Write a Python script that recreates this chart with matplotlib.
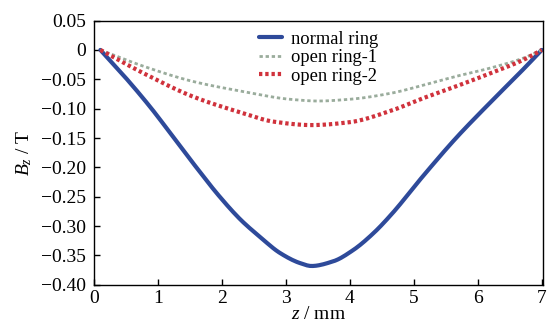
import matplotlib
matplotlib.use("Agg")
import matplotlib.pyplot as plt
import numpy as np

plt.rcParams['font.family'] = ['Liberation Serif', 'DejaVu Serif']
plt.rcParams['mathtext.fontset'] = 'custom'
plt.rcParams['mathtext.rm'] = 'Liberation Serif'
plt.rcParams['mathtext.it'] = 'Liberation Serif:italic'

# normal ring
z_normal = [0.1, 0.5, 0.9, 1.25, 1.6, 1.95, 2.3, 2.59, 2.91, 3.22, 3.40, 3.74, 4.05, 4.36, 4.65, 5.15, 5.66, 6.19, 6.71, 7.0]
b_normal = [0.0, -0.048, -0.100, -0.150, -0.200, -0.248, -0.290, -0.318, -0.346, -0.363, -0.368, -0.360, -0.341, -0.313, -0.280, -0.214, -0.150, -0.090, -0.033, 0.0]

# open ring-1
z_open1 = [0.1, 0.78, 1.56, 2.34, 3.06, 3.5, 4.0, 4.63, 5.15, 5.66, 6.19, 6.71, 7.0]
b_open1 = [0.0, -0.028, -0.054, -0.071, -0.084, -0.087, -0.084, -0.074, -0.060, -0.045, -0.031, -0.014, 0.0]

# open ring-2
z_open2 = [0.1, 0.78, 1.56, 2.34, 2.8, 3.4, 4.0, 4.63, 5.15, 5.66, 6.19, 6.71, 7.0]
b_open2 = [0.0, -0.040, -0.080, -0.108, -0.122, -0.128, -0.123, -0.104, -0.082, -0.062, -0.040, -0.017, 0.0]

series_labels = ["normal ring", "open ring-1", "open ring-2"]
x_ticks = [0, 1, 2, 3, 4, 5, 6, 7]
y_ticks = [-0.40, -0.35, -0.30, -0.25, -0.20, -0.15, -0.10, -0.05, 0.0, 0.05]
y_tick_labels = ["\u22120.40", "\u22120.35", "\u22120.30", "\u22120.25", "\u22120.20",
                 "\u22120.15", "\u22120.10", "\u22120.05", "0", "0.05"]


def smooth(x, y, n=300):
    x = np.asarray(x, float)
    y = np.asarray(y, float)
    xs = np.linspace(x[0], x[-1], n)
    h = np.diff(x)
    d = np.diff(y) / h
    m = np.zeros_like(y)
    m[0], m[-1] = d[0], d[-1]
    for i in range(1, len(y) - 1):
        if d[i - 1] * d[i] <= 0:
            m[i] = 0
        else:
            w1 = 2 * h[i] + h[i - 1]
            w2 = h[i] + 2 * h[i - 1]
            m[i] = (w1 + w2) / (w1 / d[i - 1] + w2 / d[i])
    idx = np.clip(np.searchsorted(x, xs) - 1, 0, len(x) - 2)
    t = (xs - x[idx]) / h[idx]
    h00 = 2 * t**3 - 3 * t**2 + 1
    h10 = t**3 - 2 * t**2 + t
    h01 = -2 * t**3 + 3 * t**2
    h11 = t**3 - t**2
    ys = h00 * y[idx] + h10 * h[idx] * m[idx] + h01 * y[idx + 1] + h11 * h[idx] * m[idx + 1]
    return xs, ys


fig = plt.figure(figsize=(5.48, 3.31), dpi=100)
ax = fig.add_axes([0.1715, 0.1396, 0.8195, 0.7982])

xs, ys = smooth(z_normal, b_normal)
ax.plot(xs, ys, color='#2e4a9a', lw=3.0, label=series_labels[0], solid_capstyle='round')
xs, ys = smooth(z_open1, b_open1)
ax.plot(xs, ys, color='#9aac9c', lw=2.0, ls=(0, (1.2, 1.0)), label=series_labels[1])
xs, ys = smooth(z_open2, b_open2)
ax.plot(xs, ys, color='#d0323c', lw=3.0, ls=(0, (0.8, 0.7)), label=series_labels[2])

ax.set_xlim(0, 7.02)
ax.set_ylim(-0.40, 0.05)
ax.set_xticks(x_ticks)
ax.set_xticklabels([str(t) for t in x_ticks])
ax.set_yticks(y_ticks)
ax.set_yticklabels(y_tick_labels)
ax.tick_params(direction='in', length=4, width=1, labelsize=14, top=False, right=False)
ax.tick_params(axis='y', pad=6)
ax.tick_params(axis='x', pad=4)
for s in ax.spines.values():
    s.set_linewidth(1.0)

ax.set_xlabel('$z$ / mm', fontsize=14, labelpad=-1)
ax.set_ylabel('$B_z$ / T', fontsize=14, labelpad=5)

leg = ax.legend(loc='upper center', bbox_to_anchor=(0.5, 1.025), frameon=False, fontsize=13.3,
                handlelength=1.25, handletextpad=0.5, labelspacing=0.08)

fig.savefig('out.png', dpi=100)
